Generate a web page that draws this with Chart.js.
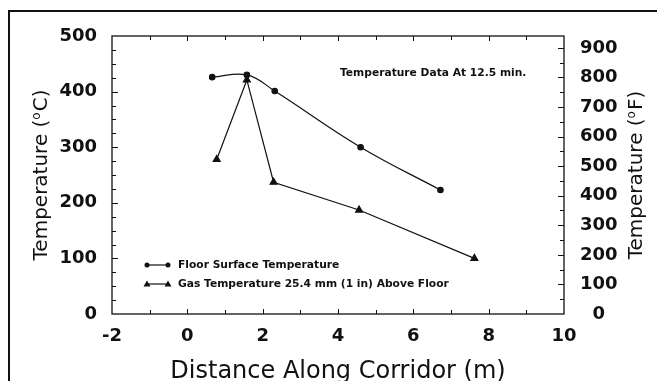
<!DOCTYPE html>
<html>
<head>
<meta charset="utf-8">
<script src="https://cdn.jsdelivr.net/npm/chart.js@4.4.1/dist/chart.umd.min.js"></script>
<style>
  html, body { margin: 0; padding: 0; background: #fff; }
  canvas { display: block; }
</style>
</head>
<body>
<canvas id="corridorChart" width="657" height="381"></canvas>
<script>
// distance along corridor (m) and temperatures (°C) at 12.5 min
const floorX = [0.66, 1.58, 2.32, 4.60, 6.72];
const floorTemp = [426, 430, 401, 300, 223];
const gasX = [0.78, 1.58, 2.29, 4.56, 7.62];
const gasTemp = [278, 421, 237, 187, 100];

const seriesLabels = ['Floor Surface Temperature', 'Gas Temperature 25.4 mm (1 in) Above Floor'];
const noteText = 'Temperature Data At 12.5 min.';

const FONT = "'DejaVu Sans', sans-serif";

const toPoints = (xs, ys) => xs.map((x, i) => ({ x: x, y: ys[i] }));

// inward tick marks, frames, titles and the hand-laid legend
const decorPlugin = {
    id: 'decor',
    beforeDraw(chart) {
        const ctx = chart.ctx;
        ctx.save();
        ctx.fillStyle = '#fff';
        ctx.fillRect(0, 0, chart.width, chart.height);
        ctx.strokeStyle = '#111';
        ctx.lineWidth = 2;
        ctx.strokeRect(9, 11, chart.width + 20, chart.height + 20);
        ctx.restore();
    },
    afterDraw(chart) {
        const ctx = chart.ctx;
        const a = chart.chartArea;
        const sx = chart.scales.x, sy = chart.scales.y, sy1 = chart.scales.y1;
        ctx.save();
        ctx.strokeStyle = '#111';
        ctx.lineWidth = 1.3;
        ctx.strokeRect(a.left, a.top, a.right - a.left, a.bottom - a.top);

        ctx.lineWidth = 1;
        ctx.beginPath();
        for (let v = -1; v < 10; v++) {
            const px = Math.round(sx.getPixelForValue(v)) + 0.5;
            const len = v % 2 === 0 ? 5 : 4;
            ctx.moveTo(px, a.bottom); ctx.lineTo(px, a.bottom - len);
            ctx.moveTo(px, a.top); ctx.lineTo(px, a.top + len);
        }
        for (let v = 25; v < 500; v += 25) {
            const py = Math.round(sy.getPixelForValue(v)) + 0.5;
            ctx.moveTo(a.left, py); ctx.lineTo(a.left + (v % 100 === 0 ? 6 : 4), py);
        }
        for (let v = 50; v <= 900; v += 50) {
            const py = Math.round(sy1.getPixelForValue(v)) + 0.5;
            ctx.moveTo(a.right, py); ctx.lineTo(a.right - (v % 100 === 0 ? 6 : 4), py);
        }
        ctx.stroke();

        ctx.fillStyle = '#111';
        // axis titles
        ctx.font = '24px ' + FONT;
        ctx.textAlign = 'center';
        ctx.textBaseline = 'alphabetic';
        ctx.fillText('Distance Along Corridor (m)', (a.left + a.right) / 2, 378);

        const midY = (a.top + a.bottom) / 2;
        drawDegreeTitle(ctx, 42, midY, 'C');
        drawDegreeTitle(ctx, 637, midY, 'F');

        // note
        ctx.font = 'bold 10.7px ' + FONT;
        ctx.textAlign = 'left';
        ctx.textBaseline = 'middle';
        ctx.fillText(noteText, 340, 73);

        // legend
        chart.data.datasets.forEach((ds, i) => {
            const y = 265 + i * 19;
            ctx.beginPath();
            ctx.lineWidth = 1.2;
            ctx.moveTo(147, y); ctx.lineTo(168, y);
            ctx.stroke();
            [147, 168].forEach(x => drawMarker(ctx, ds.pointStyle, x, y));
            ctx.fillText(ds.label, 178, y + 0.5);
        });
        ctx.restore();
    }
};

function drawMarker(ctx, style, x, y) {
    ctx.beginPath();
    if (style === 'triangle') {
        ctx.moveTo(x, y - 3.5);
        ctx.lineTo(x + 3.5, y + 2.5);
        ctx.lineTo(x - 3.5, y + 2.5);
        ctx.closePath();
    } else {
        ctx.arc(x, y, 2.5, 0, Math.PI * 2);
    }
    ctx.fill();
}

// "Temperature (oC)" with a raised small o, read bottom to top
function drawDegreeTitle(ctx, cx, cy, unit) {
    const big = '20px ' + FONT, small = '12px ' + FONT;
    const pre = 'Temperature (', post = unit + ')';
    ctx.save();
    ctx.font = big;
    const w1 = ctx.measureText(pre).width, w3 = ctx.measureText(post).width;
    ctx.font = small;
    const w2 = ctx.measureText('o').width + 1;
    const total = w1 + w2 + w3;
    ctx.translate(cx, cy);
    ctx.rotate(-Math.PI / 2);
    ctx.textAlign = 'left';
    ctx.textBaseline = 'middle';
    let x = -total / 2;
    ctx.font = big;
    ctx.fillText(pre, x, 0);
    x += w1;
    ctx.font = small;
    ctx.fillText('o', x, -5);
    x += w2;
    ctx.font = big;
    ctx.fillText(post, x, 0);
    ctx.restore();
}

const tickFont = { family: FONT, size: 18, weight: 'bold' };

new Chart(document.getElementById('corridorChart').getContext('2d'), {
    type: 'line',
    data: {
        datasets: [{
            label: seriesLabels[0],
            data: toPoints(floorX, floorTemp),
            borderColor: '#111',
            backgroundColor: '#111',
            borderWidth: 1.2,
            tension: 0.4,
            pointStyle: 'circle',
            pointRadius: 2.7,
            yAxisID: 'y'
        }, {
            label: seriesLabels[1],
            data: toPoints(gasX, gasTemp),
            borderColor: '#111',
            backgroundColor: '#111',
            borderWidth: 1.2,
            tension: 0,
            pointStyle: 'triangle',
            pointRadius: 4,
            yAxisID: 'y'
        }]
    },
    options: {
        responsive: false,
        animation: false,
        layout: { padding: { top: 36, left: 0, right: 0, bottom: 0 } },
        plugins: { legend: { display: false }, tooltip: { enabled: false } },
        scales: {
            x: {
                type: 'linear',
                min: -2, max: 10,
                grid: { display: false },
                border: { display: false },
                ticks: { stepSize: 2, color: '#111', font: tickFont, padding: 4, maxRotation: 0 },
                afterFit: s => { s.height = 67; }
            },
            y: {
                position: 'left',
                min: 0, max: 500,
                grid: { display: false },
                border: { display: false },
                ticks: { stepSize: 100, color: '#111', font: tickFont, padding: 7 },
                afterFit: s => { s.width = 112; }
            },
            y1: {
                position: 'right',
                min: 0, max: 940,
                grid: { display: false },
                border: { display: false },
                ticks: {
                    stepSize: 100, includeBounds: false, autoSkip: false,
                    color: '#111', font: tickFont, padding: 8, crossAlign: 'center'
                },
                afterBuildTicks: s => { s.ticks = s.ticks.filter(t => t.value % 100 === 0 && t.value <= 900); },
                afterFit: s => { s.width = 93; }
            }
        }
    },
    plugins: [decorPlugin]
});
</script>
</body>
</html>
